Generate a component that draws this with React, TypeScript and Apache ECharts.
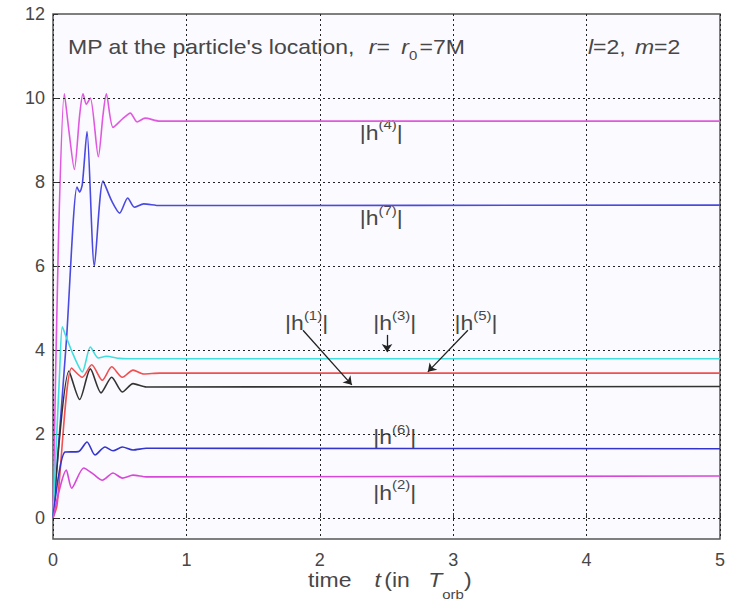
import React, { useEffect, useRef } from "react";
import * as echarts from "echarts";

// ---- data ----
const xTicks = [0, 1, 2, 3, 4, 5];
const yTicks = [0, 2, 4, 6, 8, 10, 12];

const h4 = [[0, 0], [0.04, 6.5], [0.085, 10.1], [0.12, 9.2], [0.16, 8.3], [0.2, 9.6], [0.225, 10.1], [0.25, 9.85], [0.28, 10.0], [0.34, 8.6], [0.375, 9.6], [0.4, 10.1], [0.45, 9.3], [0.52, 9.5], [0.58, 9.64], [0.63, 9.43], [0.69, 9.52], [0.8, 9.45], [5, 9.45]];
const h7 = [[0, 0], [0.1, 4.2], [0.18, 7.88], [0.2, 7.76], [0.22, 7.95], [0.255, 9.2], [0.31, 6.0], [0.375, 8.02], [0.44, 7.55], [0.5, 7.26], [0.56, 7.62], [0.61, 7.4], [0.68, 7.48], [0.8, 7.44], [5, 7.45]];
const h1 = [[0, 0], [0.12, 3.5], [0.2, 2.82], [0.28, 3.55], [0.36, 2.98], [0.44, 3.35], [0.52, 3.0], [0.6, 3.2], [0.7, 3.12], [5, 3.13]];
const h5 = [[0, 0], [0.03, 0.3], [0.14, 3.57], [0.22, 3.35], [0.29, 3.65], [0.37, 3.28], [0.44, 3.6], [0.52, 3.35], [0.6, 3.52], [0.68, 3.43], [0.8, 3.45], [5, 3.45]];
const h3 = [[0, 0], [0.05, 3.5], [0.07, 4.55], [0.1, 4.3], [0.15, 3.9], [0.22, 3.48], [0.28, 4.07], [0.34, 3.81], [0.4, 3.85], [0.5, 3.8], [0.6, 3.79], [5, 3.79]];
const h6 = [[0, 0], [0.09, 1.57], [0.19, 1.58], [0.255, 1.81], [0.315, 1.5], [0.39, 1.69], [0.45, 1.6], [0.52, 1.69], [0.6, 1.62], [0.7, 1.66], [5, 1.65]];
const h2 = [[0, 0], [0.1, 1.14], [0.14, 0.71], [0.23, 1.19], [0.3, 1.05], [0.37, 0.9], [0.45, 1.07], [0.52, 0.95], [0.6, 1.02], [0.7, 0.98], [5, 1.0]];

// label anchors (data coords) : [index, t, value]
const labelPos: [string, number, number][] = [
  ["4", 2.3, 9.17],
  ["7", 2.3, 7.14],
  ["1", 1.74, 4.64],
  ["3", 2.4, 4.64],
  ["5", 3.01, 4.64],
  ["6", 2.4, 1.93],
  ["2", 2.4, 0.6],
];
// arrows (data coords): from -> to
const arrows = [
  [[1.874, 4.47], [2.24, 3.17]],
  [[2.504, 4.36], [2.504, 3.95]],
  [[3.11, 4.47], [2.81, 3.48]],
];

const FONT = "Liberation Sans";
const TXT = "#474747";

let measureCtx: CanvasRenderingContext2D | null = null;
function tw(text: string, size: number, italic?: boolean) {
  if (!measureCtx) measureCtx = document.createElement("canvas").getContext("2d");
  const c = measureCtx!;
  c.font = `${italic ? "italic " : ""}${size}px "${FONT}"`;
  return c.measureText(text).width;
}

type Part = { t: string; s?: number; i?: boolean; dy?: number; gap?: number };
function seq(parts: Part[], x: number, y: number, scaleX = 1.15) {
  let cx = 0;
  const children: any[] = [];
  for (const p of parts) {
    const s = p.s ?? 20;
    if (p.gap) cx += p.gap;
    children.push({
      type: "text",
      x: cx,
      y: p.dy ?? 0,
      style: {
        text: p.t,
        fontSize: s,
        fontStyle: p.i ? "italic" : "normal",
        fontFamily: FONT,
        fill: TXT,
        align: "left",
        verticalAlign: "middle",
      },
    });
    cx += tw(p.t, s, p.i);
  }
  return { type: "group", x, y, scaleX, silent: true, children };
}

export default function App() {
  const ref = useRef<HTMLDivElement>(null);
  useEffect(() => {
    const chart = echarts.init(ref.current!, undefined, { renderer: "svg" });
    const line = (data: number[][], color: string, extra: any = {}) => ({
      type: "line",
      data,
      showSymbol: false,
      smooth: 0.25,
      lineStyle: { color, width: 1.6 },
      itemStyle: { color },
      silent: true,
      ...extra,
    });
    const option: any = {
      animation: false,
      backgroundColor: "#ffffff",
      grid: {
        left: 53,
        right: 18,
        top: 14,
        bottom: 71,
        show: true,
        backgroundColor: "#fbfafe",
        borderColor: "#555",
        borderWidth: 1.5,
      },
      xAxis: {
        type: "value",
        min: 0,
        max: 5,
        interval: 1,
        axisLine: { show: false },
        axisTick: { show: true, inside: true, length: 5, lineStyle: { color: "#333" } },
        axisLabel: { color: TXT, fontSize: 18, fontFamily: FONT, margin: 12, customValues: xTicks },
        splitLine: { show: true, lineStyle: { type: [2, 3], color: "#222", width: 1 } },
      },
      yAxis: {
        type: "value",
        min: -0.5,
        max: 12,
        axisLine: { show: false },
        axisTick: { show: true, inside: true, length: 5, customValues: yTicks, lineStyle: { color: "#333" } },
        axisLabel: { color: TXT, fontSize: 18, fontFamily: FONT, margin: 8, customValues: yTicks },
        splitLine: { show: false },
      },
      series: [
        line(h4, "#e058e0", {
          markLine: {
            silent: true,
            symbol: ["none", "none"],
            label: { show: false },
            lineStyle: { type: [2, 3], color: "#222", width: 1 },
            data: yTicks.filter((v) => v < 12).map((v) => ({ yAxis: v })),
          },
        }),
        line(h7, "#4a4ae0"),
        line(h1, "#333333"),
        line(h5, "#f05050"),
        line(h3, "#40dede"),
        line(h6, "#3434cc"),
        line(h2, "#d848d8", {
          markLine: {
            silent: true,
            symbol: ["none", "arrow"],
            symbolSize: 8,
            label: { show: false },
            lineStyle: { type: "solid", color: "#222", width: 1.3 },
            data: arrows.map(([a, b]) => [{ coord: a }, { coord: b }]),
          },
        }),
      ],
    };
    chart.setOption(option);

    const g: any[] = [];
    for (const [n, t, v] of labelPos) {
      const [px, py] = chart.convertToPixel({ gridIndex: 0 }, [t, v]) as number[];
      g.push(seq([{ t: "|h" }, { t: `(${n})`, s: 13, dy: -8 }, { t: "|" }], px, py));
    }
    g.push(
      seq(
        [
          { t: "MP at the particle's location," },
          { t: "r", i: true, gap: 12 },
          { t: "=" },
          { t: "r", i: true, gap: 10 },
          { t: "0", s: 13, dy: 8 },
          { t: "=7M", gap: 2 },
        ],
        68,
        47
      )
    );
    g.push(seq([{ t: "l", i: true }, { t: "=2," }, { t: "m", i: true, gap: 8 }, { t: "=2" }], 588, 47));
    g.push(
      seq(
        [
          { t: "time" },
          { t: "t", i: true, gap: 20 },
          { t: "(in", gap: 3 },
          { t: "T", i: true, gap: 16 },
          { t: "orb", s: 13, dy: 14 },
          { t: ")" },
        ],
        308,
        580
      )
    );
    chart.setOption({ graphic: g });
    return () => chart.dispose();
  }, []);
  return (
    <div
      ref={ref}
      style={{ position: "fixed", left: 0, top: 0, width: 738, height: 610 }}
    />
  );
}
